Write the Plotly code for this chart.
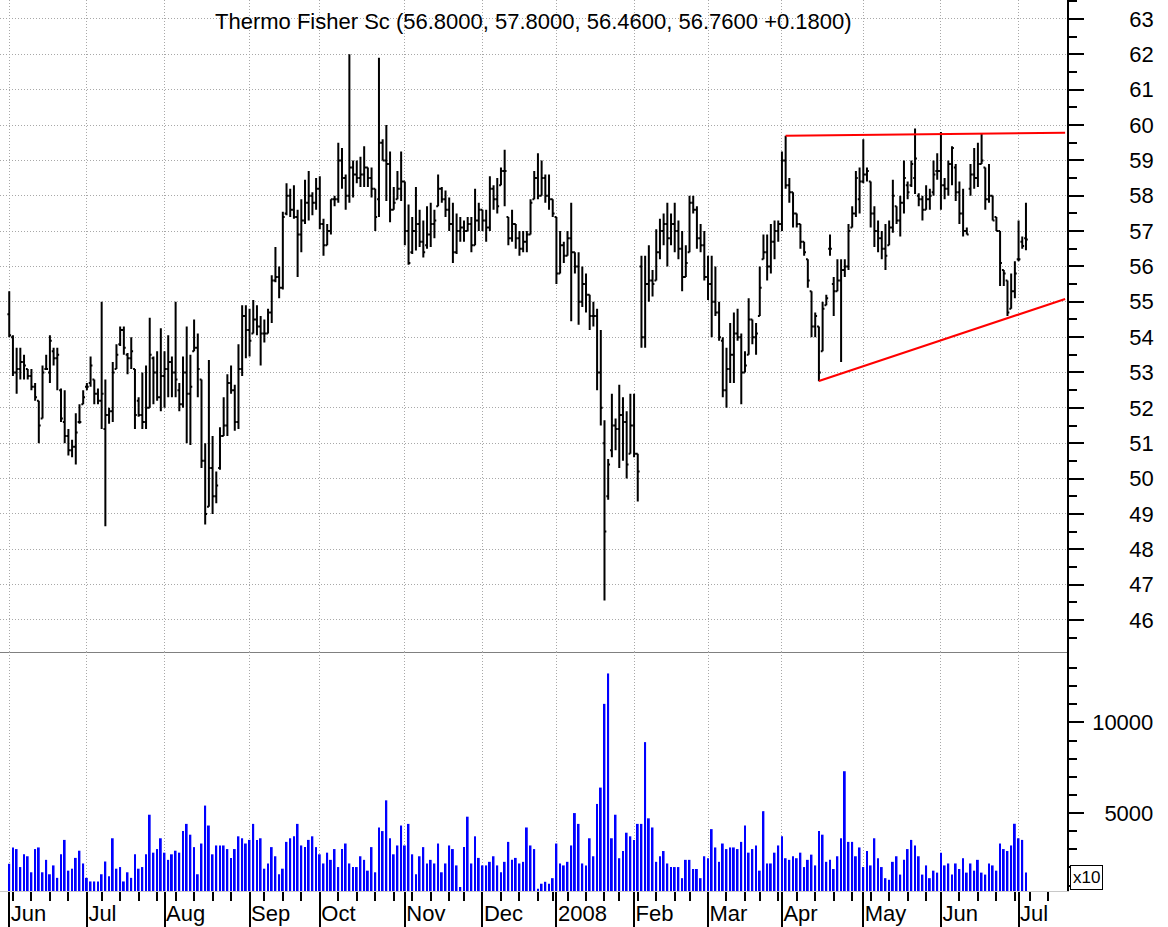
import plotly.graph_objects as go
from plotly.subplots import make_subplots

# daily bars, Jun 1 2007 .. Jul 3 2008 (trading-day number on x)
opens = [
    54.65, 54.0, 53.0, 53.1, 53.3, 53.1, 52.9, 52.6, 52.2, 51.7,
    53.1, 53.0, 53.6, 53.4, 52.5, 51.6, 51.2, 50.8, 50.9, 51.6,
    52.1, 52.6, 52.7, 52.8, 52.4, 52.2, 51.4, 51.8, 51.9, 53.1,
    53.8, 54.2, 53.5, 53.4, 53.1, 52.2, 51.8, 51.6, 52.0, 53.4,
    53.0, 52.3, 52.9, 53.1, 53.3, 53.0, 52.5, 52.1, 53.0, 52.4,
    53.6, 53.7, 52.8, 50.5, 49.2, 50.3, 49.5, 50.3, 51.2, 51.5,
    52.7, 52.5, 51.6, 53.1, 54.6, 54.2, 54.1, 54.5, 54.3, 54.1,
    54.1, 54.7, 55.6, 55.7, 55.4, 57.5, 58.0, 57.6, 57.4, 56.9,
    57.3, 57.8, 58.0, 57.8, 58.2, 57.2, 56.6, 57.0, 57.9, 57.9,
    59.0, 58.5, 58.0, 58.8, 58.6, 58.5, 58.6, 58.8, 58.5, 58.2,
    57.9, 59.5, 59.0, 58.9, 57.6, 57.9, 58.2, 58.4, 57.0, 56.4,
    57.0, 57.2, 56.7, 56.6, 56.9, 57.2, 57.7, 58.2, 57.9, 57.6,
    57.2, 56.4, 57.0, 57.1, 57.0, 57.2, 56.6, 57.3, 57.6, 57.3,
    57.1, 58.2, 57.9, 58.3, 58.7, 57.4, 56.8, 57.2, 56.8, 56.5,
    56.7, 56.9, 57.9, 58.5, 58.0, 58.5, 58.0, 57.9, 57.4, 55.8,
    56.6, 56.3, 56.8, 56.4, 56.0, 55.0, 55.5, 55.2, 54.6, 54.6,
    53.0, 51.0, 49.5, 50.8, 51.5, 51.4, 51.8, 51.6, 50.7, 51.5,
    50.7, 56.0, 54.0, 55.5, 55.6, 55.6, 56.4, 57.0, 57.2, 56.8,
    57.2, 57.0, 56.5, 55.7, 56.4, 57.8, 57.6, 56.8, 56.6, 55.7,
    55.5, 55.0, 54.7, 53.9, 52.5, 53.1, 53.5, 54.1, 54.0, 53.0,
    53.5, 54.5, 54.0, 54.6, 56.2, 56.4, 56.0, 56.7, 57.0, 57.2,
    59.0, 58.3, 58.1, 57.5, 57.2, 56.7, 56.2, 55.3, 54.3, 54.3,
    53.6, 54.9, 56.5, 55.5, 55.3, 55.6, 55.9, 56.0, 57.1, 57.5,
    57.9, 58.4, 58.6, 58.4, 57.5, 57.0, 56.8, 56.5, 56.6, 57.1,
    57.7, 57.3, 57.8, 58.3, 58.3, 58.5, 58.0, 57.9, 57.6, 57.9,
    58.1, 58.7, 58.7, 58.3, 58.2, 58.9, 58.8, 58.1, 57.5, 57.0,
    58.2, 58.6, 58.5, 58.9, 58.8, 57.9, 58.0, 57.4, 57.0, 55.9,
    55.6, 54.8, 55.3, 56.2, 56.7, 56.8,
]
highs = [
    55.3, 54.05, 53.7, 53.7, 53.5, 53.1, 53.1, 52.7, 52.2, 53.2,
    53.5, 54.05, 53.7, 53.7, 52.55, 52.5, 51.4, 51.1, 51.85, 52.1,
    52.5, 52.7, 53.45, 52.8, 52.55, 55.0, 52.8, 52.0, 53.3, 53.8,
    54.3, 54.3, 53.55, 54.0, 53.1, 52.3, 53.0, 53.2, 54.55, 53.45,
    53.6, 54.25, 53.6, 54.05, 53.45, 55.0, 52.7, 53.45, 54.3, 53.5,
    54.5, 54.1, 52.8, 51.0, 53.35, 51.2, 50.2, 51.45, 52.3, 52.95,
    53.2, 52.65, 53.8, 54.9, 54.9, 54.8, 55.05, 54.9, 54.6, 54.5,
    54.8, 55.75, 56.55, 56.0, 57.55, 58.35, 58.2, 58.3, 57.6, 57.9,
    58.45, 58.7, 58.1, 58.5, 58.55, 57.35, 57.2, 57.9, 58.0, 59.5,
    59.35, 58.6, 62.0, 59.0, 59.0, 59.1, 59.4, 58.8, 58.8, 58.2,
    61.9, 59.6, 60.0, 59.25, 58.25, 58.7, 59.25, 58.4, 57.75, 57.4,
    58.25, 57.6, 57.3, 57.7, 57.8, 57.6, 58.6, 58.25, 58.15, 57.95,
    57.8, 57.5, 57.4, 57.3, 57.4, 57.4, 58.2, 57.8, 57.6, 57.6,
    58.55, 58.3, 58.5, 58.8, 59.3, 57.4, 57.6, 57.2, 57.0, 57.0,
    57.0, 57.9, 58.7, 59.2, 59.0, 58.6, 58.6, 57.9, 57.4, 57.0,
    56.7, 57.0, 57.8, 56.4, 56.4, 56.0, 55.8, 55.2, 55.0, 54.8,
    54.2, 51.65, 50.55, 52.4, 51.7, 52.65, 52.3, 51.9, 52.4, 52.4,
    50.7, 56.3, 56.3, 56.6, 55.9, 57.05, 57.35, 57.5, 57.8, 57.5,
    57.8, 57.3, 57.0, 56.6, 58.0, 58.0, 57.7, 57.2, 57.0, 56.3,
    56.3, 56.0, 55.0, 54.0, 53.7, 54.4, 54.7, 54.8, 54.1, 53.6,
    55.1, 54.5, 54.4, 56.0, 56.9, 56.9, 57.2, 57.3, 57.3, 59.25,
    59.7, 58.5, 58.1, 57.5, 57.2, 56.7, 56.2, 55.3, 54.7, 54.3,
    55.0, 55.2, 56.9, 55.7, 56.2, 56.2, 56.2, 57.2, 57.7, 58.7,
    58.8, 59.6, 58.8, 58.4, 57.7, 57.3, 57.0, 57.2, 57.3, 58.45,
    57.7, 58.0, 59.0, 58.4, 59.0, 59.9, 58.07, 58.0, 58.3, 58.2,
    59.0, 59.2, 59.8, 58.5, 59.0, 59.4, 58.9, 58.4, 58.2, 57.1,
    58.9, 59.35, 59.5, 59.75, 58.8, 58.9, 58.0, 57.4, 57.0, 55.9,
    55.6, 55.8, 56.15, 57.3, 56.85, 57.8,
]
lows = [
    54.0, 52.9, 52.4, 52.8, 52.8, 52.8, 52.5, 52.2, 51.0, 51.7,
    53.1, 52.7, 53.2, 52.5, 51.6, 51.0, 50.65, 50.6, 50.4, 51.55,
    52.1, 52.5, 52.6, 52.1, 52.1, 51.4, 48.65, 51.55, 51.6, 53.1,
    53.75, 53.5, 52.95, 53.1, 51.4, 51.75, 51.4, 51.4, 52.0, 52.1,
    52.2, 51.9, 52.0, 52.3, 52.3, 52.3, 51.9, 52.0, 51.0, 50.95,
    53.6, 52.3, 50.3, 48.7, 49.2, 49.0, 49.3, 50.25, 51.2, 51.2,
    52.4, 51.35, 51.4, 52.9, 53.4, 53.45, 54.1, 54.05, 53.2, 53.85,
    54.1, 54.4, 55.55, 55.1, 55.35, 57.45, 57.4, 57.35, 55.7, 56.4,
    57.2, 57.3, 57.45, 57.6, 57.05, 56.3, 56.6, 56.9, 57.7, 57.8,
    58.2, 57.6, 57.8, 57.95, 58.35, 58.25, 58.25, 58.25, 57.95, 57.0,
    57.4, 59.0, 57.85, 57.25, 57.6, 57.9, 57.85, 56.6, 56.05, 56.35,
    56.45, 56.55, 56.25, 56.5, 56.55, 56.8, 57.7, 57.8, 57.4, 57.0,
    56.1, 56.35, 56.7, 56.7, 57.0, 56.4, 56.6, 57.0, 57.0, 56.7,
    57.0, 57.6, 57.5, 58.3, 57.7, 56.6, 56.7, 56.5, 56.3, 56.4,
    56.4, 56.9, 57.9, 57.9, 58.0, 57.8, 57.6, 57.4, 55.5, 55.8,
    56.1, 56.3, 54.45, 55.8, 54.35, 54.85, 54.7, 54.2, 54.3, 52.5,
    51.5, 46.55, 49.4, 50.6, 50.8, 50.3, 50.5, 50.0, 50.7, 50.6,
    49.35, 53.7, 53.7, 55.0, 55.15, 55.6, 56.2, 56.6, 56.0, 56.6,
    56.4, 56.2, 55.3, 55.7, 56.4, 57.5, 56.5, 56.4, 55.6, 55.05,
    54.0, 54.6, 53.9, 52.3, 52.0, 52.7, 52.7, 53.9, 52.1, 53.0,
    53.5, 53.8, 53.5, 54.6, 56.2, 55.6, 55.8, 56.2, 56.7, 57.0,
    58.2, 57.8, 57.1, 57.1, 56.5, 56.3, 55.4, 54.0, 54.0, 52.75,
    53.6, 54.9, 56.3, 54.6, 55.3, 53.3, 55.7, 55.9, 57.1, 57.4,
    57.5, 58.35, 58.4, 57.1, 56.55, 56.4, 56.2, 55.9, 56.6, 56.95,
    57.2, 56.85, 57.5, 57.9, 58.25, 58.05, 57.7, 57.3, 57.6, 57.6,
    58.0, 58.45, 57.6, 57.9, 58.0, 58.3, 57.85, 57.2, 56.85, 56.9,
    58.0, 58.2, 58.25, 58.9, 57.6, 57.8, 57.3, 57.0, 55.45, 55.45,
    54.6, 54.8, 55.1, 56.15, 56.5, 56.46,
]
closes = [
    54.05, 53.0, 53.1, 53.3, 53.2, 52.9, 52.6, 52.3, 51.5, 53.0,
    53.1, 53.9, 53.4, 53.5, 51.7, 51.2, 50.8, 50.9, 51.3, 51.6,
    52.3, 52.6, 53.2, 52.4, 52.2, 52.4, 51.8, 51.9, 53.0, 53.5,
    54.2, 53.7, 53.4, 53.6, 51.8, 51.8, 51.6, 52.0, 53.5, 53.0,
    52.3, 52.9, 53.1, 53.3, 53.0, 52.8, 52.1, 53.0, 52.4, 52.6,
    53.7, 53.1, 50.5, 49.0, 50.3, 49.5, 49.8, 51.2, 51.5, 52.7,
    52.5, 51.6, 53.1, 54.6, 54.2, 53.9, 54.5, 54.3, 54.1, 54.1,
    54.7, 55.6, 55.7, 55.4, 57.4, 58.0, 57.6, 57.4, 56.9, 57.3,
    57.8, 58.0, 57.8, 58.2, 57.2, 56.6, 57.0, 57.9, 57.9, 59.0,
    58.5, 58.0, 58.8, 58.6, 58.5, 58.6, 58.8, 58.5, 58.2, 57.4,
    59.5, 59.0, 58.9, 57.6, 57.8, 58.2, 58.4, 57.0, 56.1, 57.0,
    57.2, 56.7, 56.4, 56.9, 57.2, 57.3, 58.2, 57.9, 57.6, 57.2,
    56.4, 57.0, 57.1, 57.0, 57.2, 56.6, 57.3, 57.6, 57.3, 57.1,
    58.2, 57.9, 57.7, 58.7, 58.7, 56.8, 57.2, 56.8, 56.5, 56.7,
    56.9, 57.8, 58.5, 58.0, 58.5, 58.0, 57.9, 57.5, 55.8, 56.6,
    56.3, 56.8, 56.4, 56.0, 55.0, 55.5, 55.2, 54.6, 54.6, 53.0,
    52.0, 48.5, 50.4, 51.5, 51.4, 51.8, 51.6, 50.4, 51.5, 50.7,
    50.2, 54.0, 55.5, 55.6, 55.5, 56.4, 57.0, 57.2, 56.8, 57.2,
    57.0, 56.5, 55.7, 56.1, 57.8, 57.6, 56.8, 56.6, 55.7, 55.5,
    55.0, 54.7, 54.0, 52.5, 53.1, 53.5, 54.1, 54.0, 53.0, 53.2,
    54.5, 54.0, 54.1, 55.4, 56.4, 56.0, 56.7, 57.0, 57.2, 59.0,
    58.3, 58.1, 57.5, 57.2, 56.7, 56.4, 55.6, 54.3, 54.6, 53.0,
    54.8, 55.1, 56.5, 55.3, 55.6, 55.9, 56.0, 57.0, 57.5, 58.5,
    58.4, 58.6, 58.7, 57.5, 57.0, 56.8, 56.5, 56.3, 57.1, 58.0,
    57.3, 57.8, 58.5, 58.1, 58.9, 59.05, 57.9, 57.6, 57.9, 58.0,
    58.6, 58.7, 58.3, 58.2, 58.9, 59.35, 58.1, 57.5, 57.0, 56.9,
    58.6, 58.5, 58.9, 59.0, 57.9, 58.0, 57.3, 57.0, 56.1, 55.8,
    54.7, 55.3, 55.8, 56.2, 56.58, 56.76,
]
# volume (axis units, x10)
volumes = [
    2202, 3104, 3014, 2021, 2725, 2617, 1733, 3014, 3104, 1733,
    2419, 1624, 2112, 1426, 2725, 3520, 1823, 1931, 2527, 2924,
    2220, 1426, 1227, 1227, 1227, 1624, 2328, 1516, 3610, 1931,
    2021, 1227, 1733, 1426, 2725, 1931, 2021, 2725, 4910, 2816,
    3014, 3610, 2816, 2419, 2725, 2924, 2816, 4007, 4404, 3808,
    3122, 1624, 3321, 5415, 4314, 2725, 3213, 3213, 3213, 3014,
    2527, 3014, 3718, 3610, 3321, 3520, 4404, 3520, 3610, 1931,
    2220, 3122, 2617, 1624, 1931, 3411, 3610, 3718, 4404, 3213,
    3122, 3520, 3718, 3122, 2725, 2220, 2816, 2419, 3014, 2021,
    3014, 3321, 2220, 2021, 2021, 2617, 2419, 1823, 3122, 1733,
    4206, 4007, 5704, 3610, 2725, 3213, 4314, 3213, 4404, 2725,
    1624, 2617, 3122, 2220, 2419, 2220, 3321, 1733, 2220, 3213,
    3014, 2112, 920, 3122, 4801, 2220, 3718, 2527, 2112, 2112,
    2310, 2617, 2112, 1733, 2310, 3411, 2419, 2527, 2220, 2310,
    4206, 3213, 3014, 830, 1101, 1209, 1101, 1408, 3321, 2220,
    2112, 2310, 3213, 5000, 4404, 2220, 2112, 3610, 2617, 5505,
    6407, 11028, 12707, 3610, 4910, 2509, 2906, 3917, 3718, 3520,
    4404, 4404, 8917, 4711, 4206, 2310, 2617, 2906, 2220, 2021,
    2021, 2021, 1408, 2419, 2419, 1913, 1913, 1408, 2617, 2509,
    4115, 3104, 2310, 3321, 3014, 3104, 3104, 3014, 3411, 4314,
    2816, 3014, 3213, 1823, 5108, 2220, 2220, 2816, 3213, 3718,
    2509, 2419, 2617, 2509, 2816, 2021, 2419, 2707, 2112, 4007,
    3808, 2310, 2419, 1913, 2617, 3610, 7310, 3411, 3411, 2617,
    3104, 2021, 2906, 2112, 3610, 2509, 2021, 1408, 1318, 2310,
    2617, 1606, 2419, 3014, 3520, 3213, 2617, 1606, 2112, 1408,
    1823, 1715, 2816, 2112, 2220, 1606, 2220, 1913, 2509, 1715,
    2220, 1823, 2419, 1715, 1606, 2220, 2112, 1823, 3321, 3014,
    2906, 3213, 4411, 3610, 3520, 1715,
]

month_starts = [0, 21, 42, 65, 84, 107, 128, 148, 169, 189, 209, 231, 252, 273]
month_labels = ["Jun", "Jul", "Aug", "Sep", "Oct", "Nov", "Dec", "2008",
                "Feb", "Mar", "Apr", "May", "Jun", "Jul"]
week_starts = [1, 6, 11, 16, 25, 30, 35, 40, 45, 50, 55, 60, 69, 74, 79,
               89, 94, 99, 104, 109, 114, 119, 123, 133, 138, 143, 147,
               151, 156, 161, 165, 170, 175, 180, 184, 194, 199, 203, 208,
               213, 218, 223, 228, 233, 238, 243, 248, 257, 262, 267, 272,
               276, 281]

# trend lines (bar number, price)
resist_x = [210, 285.6]
resist_y = [59.70, 59.78]
support_x = [219, 285.6]
support_y = [52.76, 55.08]

title_text = "Thermo Fisher Sc (56.8000, 57.8000, 56.4600, 56.7600 +0.1800)"

bar_x = list(range(len(closes)))

FONT = "Liberation Sans, Arial, sans-serif"
GRID = "#a8a8a8"
DOTS = "1px,2px"

fig = make_subplots(rows=2, cols=1, shared_xaxes=True, vertical_spacing=0,
                    row_heights=[652, 239])

fig.add_trace(go.Ohlc(
    x=bar_x, open=opens, high=highs, low=lows, close=closes,
    increasing=dict(line=dict(color="black", width=2)),
    decreasing=dict(line=dict(color="black", width=2)),
    tickwidth=0.5, showlegend=False,
), row=1, col=1)

fig.add_trace(go.Scatter(x=resist_x, y=resist_y, mode="lines",
                         line=dict(color="#ff0000", width=2), showlegend=False),
              row=1, col=1)
fig.add_trace(go.Scatter(x=support_x, y=support_y, mode="lines",
                         line=dict(color="#ff0000", width=2), showlegend=False),
              row=1, col=1)

fig.add_trace(go.Bar(x=bar_x, y=volumes, width=0.5,
                     marker=dict(color="#0000ff", line=dict(width=0)),
                     showlegend=False), row=2, col=1)

fig.update_layout(
    width=1168, height=927,
    margin=dict(l=0, r=101, t=0, b=36),
    paper_bgcolor="white", plot_bgcolor="white",
    font=dict(family=FONT, size=22, color="black"),
    showlegend=False,
)

fig.update_xaxes(range=[-2.5, 286.1], tickmode="array", tickvals=month_starts,
                 showgrid=True, gridcolor=GRID, griddash=DOTS, gridwidth=1,
                 zeroline=False, rangeslider_visible=False)
fig.update_xaxes(row=1, col=1, showticklabels=False, ticks="",
                 showline=True, linecolor="#808080", linewidth=1)
fig.update_xaxes(row=2, col=1, ticktext=month_labels, ticks="outside",
                 ticklen=36, tickwidth=2, tickcolor="black",
                 ticklabelposition="outside right", ticklabelstandoff=3,
                 showline=True, linecolor="#c8c8c8", linewidth=1,
                 minor=dict(tickmode="array", tickvals=week_starts,
                            ticks="outside", ticklen=9, tickwidth=2,
                            tickcolor="black", showgrid=False))

fig.update_yaxes(row=1, col=1, side="right", range=[45.093, 63.537],
                 tickmode="linear", tick0=0, dtick=1,
                 ticks="outside", ticklen=15, tickwidth=1.5, tickcolor="black",
                 showline=True, linecolor="black", linewidth=1.5,
                 showgrid=True, gridcolor=GRID, griddash=DOTS, gridwidth=1,
                 zeroline=False, ticklabelstandoff=41,
                 minor=dict(tickmode="linear", tick0=0, dtick=0.5,
                            ticks="outside", ticklen=8, tickwidth=1.5,
                            tickcolor="black", showgrid=False))
fig.update_yaxes(row=2, col=1, side="right", range=[700, 13890],
                 tickmode="array", tickvals=[5000, 10000],
                 ticktext=["\u20075000", "10000"],
                 ticks="outside", ticklen=15, tickwidth=1.5, tickcolor="black",
                 showline=True, linecolor="black", linewidth=1.5,
                 showgrid=False, zeroline=False, ticklabelstandoff=4,
                 minor=dict(tickmode="linear", tick0=0, dtick=1000,
                            ticks="outside", ticklen=8, tickwidth=1.5,
                            tickcolor="black", showgrid=False))

fig.add_annotation(text=title_text, xref="paper", yref="paper",
                   x=0.5, y=1 - 21 / 891, xanchor="center", yanchor="middle",
                   showarrow=False, font=dict(family=FONT, size=22, color="black"))
fig.add_annotation(text="x10", xref="paper", yref="paper",
                   x=1070 / 1067, y=0.001, xanchor="left", yanchor="bottom",
                   showarrow=False, bgcolor="white", bordercolor="black",
                   borderwidth=1, borderpad=2,
                   font=dict(family=FONT, size=17, color="black"))

# the page's default body margin would shift the whole chart by 8px
fig.write_html("out.html", config={"displayModeBar": False},
               post_script="document.body.style.margin='0px';")
